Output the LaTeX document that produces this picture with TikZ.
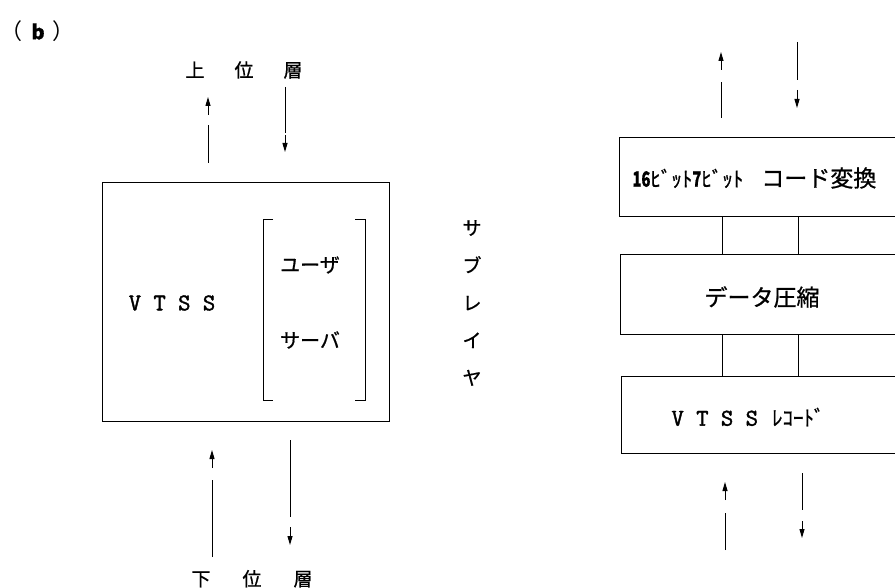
\documentclass[tikz,border=0pt]{standalone}
\usepackage{fontspec}
\setmainfont{Liberation Serif}
\newfontfamily\jp[FakeBold=0.8]{Noto Sans CJK JP}
\newfontfamily\jpthin{Noto Sans CJK JP}
\newfontfamily\monob[FakeBold=1.6]{Latin Modern Mono}
\usetikzlibrary{arrows.meta}
\begin{document}
\begin{tikzpicture}[x=1pt,y=-1pt,line width=1pt,
  jpt/.style={font=\jp\fontsize{19}{23}\selectfont, inner sep=0pt},
  monot/.style={font=\monob\fontsize{24}{26}\selectfont, inner sep=0pt},
  boxnode/.style={draw, inner sep=0pt},
  tiphead/.style={-{Triangle[length=9pt,width=5pt]}},
]
\useasboundingbox (0,0) rectangle (895,588);
\fill[white] (0,0) rectangle (895,588);
\clip (0,0) rectangle (895,588);

% ---------- left part ----------
\node[inner sep=0pt, font=\jpthin\fontsize{22}{24}\selectfont, anchor=west] (fig) at (0,31) {（\hspace{9pt}{\jp\bfseries\fontsize{20}{22}\selectfont b}\hspace{8pt}）};

\node[jpt] (upper) at (244,70) {上\hspace{30pt}位\hspace{30pt}層};

\node[boxnode, minimum width=287pt, minimum height=238pt] (vbox) at (245.5,302) {};
\node[monot] (vtss) at (172,303) {V T S S};

\node[jpt, font=\jp\fontsize{20}{24}\selectfont] (user) at (310,265) {ユーザ};
\node[jpt, font=\jp\fontsize{20}{24}\selectfont] (server) at (310,340) {サーバ};
\draw (273,220) -- (263,220) -- (263,400) -- (273,400);
\draw (355,220) -- (365,220) -- (365,400) -- (355,400);

\node[jpt, align=center, font=\jp\fontsize{19}{37.5}\selectfont] (sub) at (472,303) {サ\\ブ\\レ\\イ\\ヤ};

\node[jpt, anchor=south] (lower) at (252,588) {下\hspace{32pt}位\hspace{32pt}層};

% top-left arrows
\coordinate (a1s) at (208,163); \coordinate (a1e) at (208,125);
\coordinate (a1hs) at (208,115); \coordinate (a1he) at (208,97);
\draw (a1s) -- (a1e);
\draw[tiphead] (a1hs) -- (a1he);
\coordinate (a2s) at (285,87); \coordinate (a2e) at (285,133);
\coordinate (a2hs) at (285,135); \coordinate (a2he) at (285,152);
\draw (a2s) -- (a2e);
\draw[tiphead] (a2hs) -- (a2he);

% bottom-left arrows
\coordinate (a3s) at (212,557); \coordinate (a3e) at (212,480);
\coordinate (a3hs) at (212,468); \coordinate (a3he) at (212,450);
\draw (a3s) -- (a3e);
\draw[tiphead] (a3hs) -- (a3he);
\coordinate (a4s) at (290,440); \coordinate (a4e) at (290,517);
\coordinate (a4hs) at (290,527); \coordinate (a4he) at (290,545);
\draw (a4s) -- (a4e);
\draw[tiphead] (a4hs) -- (a4he);

% ---------- right part ----------
\node[boxnode, minimum width=300pt, minimum height=79pt] (code) at (769,177.5) {};
\node[boxnode, minimum width=300pt, minimum height=80pt] (comp) at (770,295) {};
\node[boxnode, minimum width=300pt, minimum height=77pt] (rec) at (771,414.5) {};

\node[inner sep=0pt, anchor=west, font=\jp\fontsize{23}{26}\selectfont] (codet) at (632,178)
  {\scalebox{0.7}[1]{\bfseries\fontsize{21}{22}\selectfont 16}{\fontsize{21}{24}\selectfont ﾋﾞｯﾄ}\scalebox{0.7}[1]{\bfseries\fontsize{21}{22}\selectfont 7}{\fontsize{21}{24}\selectfont ﾋﾞｯﾄ}\hspace{18pt}コード変換};
\node[jpt, font=\jp\fontsize{23}{26}\selectfont] (compt) at (762,297) {データ圧縮};
\node[inner sep=0pt, anchor=west] (rect) at (671,417)
  {{\monob\fontsize{24}{26}\selectfont V T S S}\hspace{14pt}{\jp\fontsize{21}{24}\selectfont ﾚｺｰﾄﾞ}};

\draw ([xshift=104pt]code.south west) -- ([xshift=103pt]comp.north west);
\draw ([xshift=180pt]code.south west) -- ([xshift=179pt]comp.north west);
\draw ([xshift=103pt]comp.south west) -- ([xshift=102pt]rec.north west);
\draw ([xshift=179pt]comp.south west) -- ([xshift=178pt]rec.north west);

% top-right arrows
\coordinate (b1s) at (721,118); \coordinate (b1e) at (721,82);
\coordinate (b1hs) at (721,70); \coordinate (b1he) at (721,52);
\draw (b1s) -- (b1e);
\draw[tiphead] (b1hs) -- (b1he);
\coordinate (b2s) at (797,42); \coordinate (b2e) at (797,80);
\coordinate (b2hs) at (797,90); \coordinate (b2he) at (797,108);
\draw (b2s) -- (b2e);
\draw[tiphead] (b2hs) -- (b2he);

% bottom-right arrows
\coordinate (b3s) at (725,550); \coordinate (b3e) at (725,513);
\coordinate (b3hs) at (725,500); \coordinate (b3he) at (725,482);
\draw (b3s) -- (b3e);
\draw[tiphead] (b3hs) -- (b3he);
\coordinate (b4s) at (802,473); \coordinate (b4e) at (802,510);
\coordinate (b4hs) at (802,521); \coordinate (b4he) at (802,538);
\draw (b4s) -- (b4e);
\draw[tiphead] (b4hs) -- (b4he);
\end{tikzpicture}
\end{document}
